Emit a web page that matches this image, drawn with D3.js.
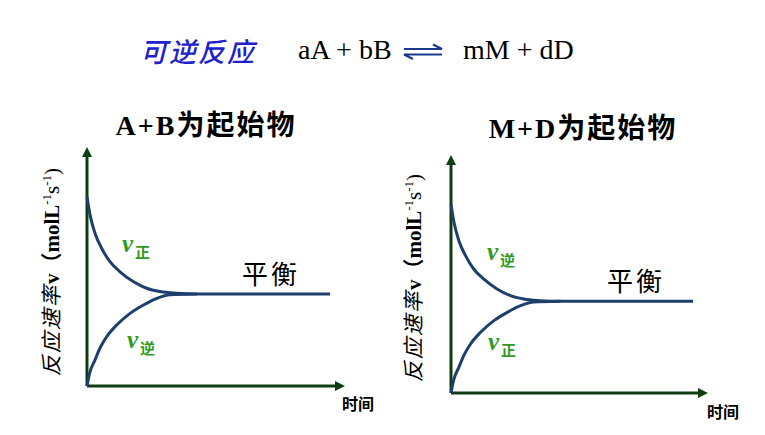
<!DOCTYPE html>
<html>
<head>
<meta charset="utf-8">
<script src="https://cdn.jsdelivr.net/npm/d3@7"></script>
<style>
  body { margin: 0; background: #fff; }
  svg { display: block; }
  .serif { font-family: "Liberation Serif", "Noto Sans CJK SC", serif; }
  .cjk { font-family: "Noto Sans CJK SC", sans-serif; }
</style>
</head>
<body>
<div id="chart"></div>
<script>
// curve shapes (time units 0..10, rate units 0..10)
var decayT = [0, 0.12, 0.31, 0.57, 0.89, 1.28, 1.79, 2.31, 2.83, 3.48, 4.26, 9.42]
var decayV = [7.92, 7.15, 6.39, 5.76, 5.20, 4.78, 4.37, 4.09, 3.95, 3.88, 3.85, 3.85]
var riseT = [0, 0.10, 0.31, 0.50, 0.76, 1.15, 1.67, 2.19, 2.71, 3.22, 4.26]
var riseV = [0, 0.53, 1.09, 1.58, 2.06, 2.55, 3.04, 3.39, 3.67, 3.82, 3.85]

var panelTitles = ["A+B为起始物", "M+D为起始物"]
var upperLabels = ["正", "逆"]
var lowerLabels = ["逆", "正"]
var eqText = "平衡"
var xLabel = "时间"

var W = 765, H = 435
var axisColor = "#0f3d12"
var lineColor = "#1d3f6c"
var labelGreen = "#2f9a1f"

var svg = d3.select("#chart").append("svg")
    .attr("width", W)
    .attr("height", H)

// header
svg.append("text")
    .attr("class", "cjk")
    .attr("x", 140).attr("y", 62)
    .style("font-size", "27px")
    .style("font-style", "italic")
    .style("font-weight", "500")
    .style("letter-spacing", "2px")
    .attr("fill", "#2020cc")
    .text("可逆反应")

svg.append("text")
    .attr("class", "serif")
    .attr("x", 298).attr("y", 59)
    .style("font-size", "28px")
    .attr("fill", "#000")
    .text("aA + bB")

svg.append("text")
    .attr("class", "serif")
    .attr("x", 463).attr("y", 59)
    .style("font-size", "28px")
    .attr("fill", "#000")
    .text("mM + dD")

// equilibrium harpoons
var harp = svg.append("g")
    .attr("stroke", "#1c3a8c")
    .attr("stroke-width", 2.2)
    .attr("fill", "none")
harp.append("path").attr("d", "M404,49 H442 L433,44.5")
harp.append("path").attr("d", "M442,54.5 H404 L413,59")

// panel geometry
var panels = [
  {x0: 87, x1: 345, y0: 386, y1: 147, titleX: 206, titleY: 135, yLabX: 52, yLabY: 272, eqX: 242, eqY: 284, xlX: 342, xlY: 410,
   upLab: [122, 252], lowLab: [127, 348]},
  {x0: 451, x1: 708, y0: 393, y1: 155, titleX: 583, titleY: 138, yLabX: 414, yLabY: 278, eqX: 607, eqY: 291, xlX: 707, xlY: 418,
   upLab: [487, 260], lowLab: [488, 350]}
]

panels.forEach(function(p, i) {
  var xScale = d3.scaleLinear().domain([0, 10]).range([p.x0, p.x1])
  var yScale = d3.scaleLinear().domain([0, 10]).range([p.y0, p.y1])

  var g = svg.append("g")

  // axes without ticks
  var ax = g.append("g")
      .attr("transform", "translate(0," + p.y0 + ")")
      .call(d3.axisBottom(xScale).tickValues([]).tickSizeOuter(0))
  var ay = g.append("g")
      .attr("transform", "translate(" + p.x0 + ",0)")
      .call(d3.axisLeft(yScale).tickValues([]).tickSizeOuter(0))
  g.selectAll(".domain")
      .attr("stroke", axisColor)
      .attr("stroke-width", 3)
  // shorten the domain so the arrowheads sit on the ends
  ax.select(".domain").attr("d", "M" + xScale(0) + ",0H" + (xScale(10) - 7))
  ay.select(".domain").attr("d", "M0," + yScale(0) + "V" + (yScale(10) + 7))

  // arrowheads
  var tx = xScale(10), ty = yScale(10)
  g.append("path")
      .attr("d", "M" + tx + "," + p.y0 + "L" + (tx - 10) + "," + (p.y0 - 5) + "L" + (tx - 10) + "," + (p.y0 + 5) + "Z")
      .attr("fill", axisColor)
  g.append("path")
      .attr("d", "M" + p.x0 + "," + ty + "L" + (p.x0 - 5) + "," + (ty + 10) + "L" + (p.x0 + 5) + "," + (ty + 10) + "Z")
      .attr("fill", axisColor)

  var line = d3.line()
      .x(function(d) { return xScale(d[0]) })
      .y(function(d) { return yScale(d[1]) })
      .curve(d3.curveMonotoneX)

  g.append("path")
      .datum(d3.zip(decayT, decayV))
      .attr("d", line)
      .attr("fill", "none")
      .attr("stroke", lineColor)
      .attr("stroke-width", 3)
  g.append("path")
      .datum(d3.zip(riseT, riseV))
      .attr("d", line)
      .attr("fill", "none")
      .attr("stroke", lineColor)
      .attr("stroke-width", 3)

  // title
  g.append("text")
      .attr("class", "serif")
      .attr("x", p.titleX).attr("y", p.titleY)
      .attr("text-anchor", "middle")
      .style("font-size", "28px")
      .style("font-weight", "bold")
      .style("letter-spacing", "2px")
      .text(panelTitles[i])

  // y label
  var yl = g.append("text")
      .attr("transform", "translate(" + p.yLabX + "," + p.yLabY + ") rotate(-90)")
      .attr("text-anchor", "middle")
      .attr("dy", "0.35em")
      .style("font-size", "21px")
  yl.append("tspan").attr("class", "cjk").style("font-style", "italic").style("letter-spacing", "2px").text("反应速率")
  yl.append("tspan").attr("class", "serif").style("font-weight", "bold").text("v")
  yl.append("tspan").attr("class", "cjk").style("font-weight", "bold").text("（")
  yl.append("tspan").attr("class", "serif").style("font-weight", "bold").text("molL")
  yl.append("tspan").attr("class", "serif").attr("dy", "-8").style("font-size", "13px").text("-1")
  yl.append("tspan").attr("class", "serif").attr("dy", "8").text("s")
  yl.append("tspan").attr("class", "serif").attr("dy", "-8").style("font-size", "13px").text("-1")
  yl.append("tspan").attr("class", "serif").attr("dy", "8").text(")")

  // equilibrium label
  g.append("text")
      .attr("class", "cjk")
      .attr("x", p.eqX).attr("y", p.eqY)
      .style("font-size", "26px")
      .style("letter-spacing", "3px")
      .text(eqText)

  // x label
  g.append("text")
      .attr("class", "cjk")
      .attr("x", p.xlX).attr("y", p.xlY)
      .style("font-size", "16px")
      .style("font-weight", "bold")
      .text(xLabel)

  // rate labels
  function vLabel(pos, sub) {
    var t = g.append("text")
        .attr("x", pos[0]).attr("y", pos[1])
        .attr("fill", labelGreen)
    t.append("tspan").attr("class", "serif")
        .style("font-size", "25px").style("font-style", "italic").style("font-weight", "bold")
        .text("v")
    t.append("tspan").attr("class", "cjk")
        .attr("dx", 2).attr("dy", 6)
        .style("font-size", "15px").style("font-weight", "bold")
        .text(sub)
  }
  vLabel(p.upLab, upperLabels[i])
  vLabel(p.lowLab, lowerLabels[i])
})
</script>
</body>
</html>
